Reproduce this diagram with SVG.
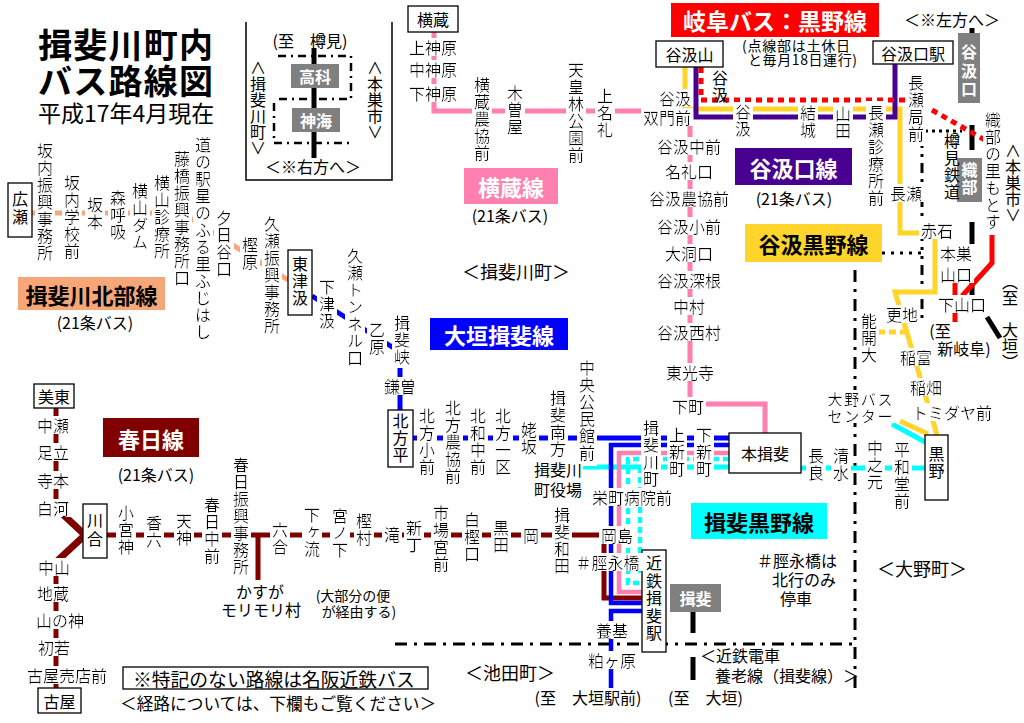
<svg xmlns="http://www.w3.org/2000/svg" width="1024" height="723" viewBox="0 0 1024 723">
<defs>
<filter id="bgh" x="-0.04" y="0.14" width="1.08" height="0.72"><feFlood flood-color="#fff"/><feComposite in="SourceGraphic"/></filter>
<filter id="bgv" x="0.12" y="-0.03" width="0.76" height="1.06"><feFlood flood-color="#fff"/><feComposite in="SourceGraphic"/></filter>
<style>
text{font-family:"Noto Sans CJK JP","Noto Sans CJK SC",sans-serif;font-size:16px;fill:#000}
.h{text-anchor:middle;dominant-baseline:central}
.s{dominant-baseline:central}
.v{writing-mode:vertical-rl;text-orientation:upright;letter-spacing:1px}
.bh{filter:url(#bgh)}
.bv{filter:url(#bgv)}
.w{fill:#fff;font-weight:bold}
.lb{font-size:22px;font-weight:bold;text-anchor:middle;dominant-baseline:central}
.ln{fill:none;stroke-width:5}
.bd{fill:none;stroke-width:4.5}
.box{fill:#fff;stroke:#000;stroke-width:1.3}
.gr{fill:#808080}
.bnd{fill:none;stroke:#000;stroke-width:3}
</style>
</defs>
<rect width="1024" height="723" fill="#fff"/>

<g id="title">
<text x="38" y="43" class="s" style="font-size:34px;font-weight:bold" textLength="175">揖斐川町内</text>
<text x="38" y="79" class="s" style="font-size:34px;font-weight:bold" textLength="175">バス路線図</text>
<text x="38" y="112" class="s" style="font-size:23px">平成17年4月現在</text>
</g>

<g id="inset">
<path d="M246,22V180H392V22" fill="none" stroke="#000" stroke-width="1.5"/>
<path d="M278,56H351V99H278M274,103V143H351" fill="none" stroke="#000" stroke-width="2.5" stroke-dasharray="8 5 2 5"/>
<path d="M314,48V158" stroke="#000" stroke-width="5"/>
<rect x="291" y="64" width="48" height="24" class="gr"/>
<text x="315" y="76" class="h w">高科</text>
<rect x="292" y="108" width="48" height="24" class="gr"/>
<text x="316" y="120" class="h w">神海</text>
<text x="310" y="40" class="h">(至　樽見)</text>
<text x="258" y="60" class="v" style="letter-spacing:0">∧揖斐川町∨</text>
<text x="375" y="60" class="v" style="letter-spacing:0">∧本巣市∨</text>
<text x="313" y="166" class="h">＜※右方へ＞</text>
</g>

<g id="connectors">
<g id="boundaries">
<path class="bnd" d="M395,644H855" stroke-dasharray="12 7 3 7"/>
<path class="bnd" d="M855,270V693" stroke-dasharray="12 7 3 7"/>
<path class="bnd" d="M882,253H922" stroke-dasharray="3 6"/>
<path class="bnd" d="M922,145V318" stroke-dasharray="3 6 3 6 10 6"/>
<path class="bnd" d="M925,131H962" stroke-dasharray="3 4"/>
</g>
<g id="rail" stroke="#000" stroke-width="5" fill="none">
<path d="M972,28V34M972,125V150M972,222V244M972,280V297M987,317L1000,338"/>
<path d="M693,612V633M693,657V680"/>
</g>
<path id="c-hokubu" class="ln" stroke="#F7A677" d="M32,213H182L288,280"/>
<path id="c-yokokura" class="ln" stroke="#FF7FAF" d="M434,32V111H690V404H765V433"/>
<path id="c-yellow" class="ln" stroke="#FFD52B" d="M685,67V109H900V233H935V292H895L937,435"/>
<path id="c-yellow-stub" class="ln" stroke="#FFD52B" d="M900,421L928,434"/>
<path id="c-yellow-dash" class="ln" stroke="#FFD52B" stroke-dasharray="7 4" d="M878,332H906"/>
<path id="c-purple" class="ln" stroke="#480090" d="M696,67V117H895V64"/>
<path id="c-red-dot" class="ln" stroke="#FF0000" stroke-dasharray="6 5" d="M701,67V100H907M932,110L985,140"/>
<path id="c-red" class="ln" stroke="#FF0000" d="M992,230V263L962,296M955,270V322"/>
<path id="c-oogaki" class="ln" stroke="#0000FF" d="M312,296L400,352V410M413,438H729"/>
<path id="c-kasuga" class="ln" stroke="#800000" d="M107,535H604V598H642M258,535V580M56,408V508M56,560V688"/>
<path id="c-kasuga-diag" fill="none" stroke="#800000" stroke-width="7" d="M56,508L85,535L56,562"/>
<path id="c-cyan" class="ln" stroke="#00FFFF" d="M583,467H729M801,468H925M892,424L925,442"/>
<path class="bd" stroke="#0000FF" d="M729,445H611V603H642M642,611H611V688"/>
<path class="bd" stroke="#FF7FAF" d="M729,453H619V592H642"/>
<path class="bd" stroke="#00FFFF" stroke-dasharray="6 4" d="M729,459H628V583H642M640,467V575H642"/>
</g>

<g id="legend-boxes">
<g id="lbl-hokubu"><rect x="18" y="277" width="147" height="33" fill="#F7A677"/><text x="91.5" y="293.5" class="lb">揖斐川北部線</text><text x="95" y="322" class="h">(21条バス)</text></g>
<g id="lbl-yokokura"><rect x="464" y="168" width="94" height="36" fill="#FF7FAF"/><text x="511" y="186" class="lb" style="fill:#fff">横蔵線</text><text x="510" y="215" class="h">(21条バス)</text></g>
<g id="lbl-oogaki"><rect x="430" y="318" width="138" height="32" fill="#0000FF"/><text x="499" y="334" class="lb" style="fill:#fff">大垣揖斐線</text></g>
<g id="lbl-tanigumiguchi"><rect x="735" y="148" width="117" height="37" fill="#480090"/><text x="793.5" y="166.5" class="lb" style="fill:#fff">谷汲口線</text><text x="794" y="198" class="h">(21条バス)</text></g>
<g id="lbl-tanigumikurono"><rect x="745" y="224" width="137" height="38" fill="#FFD52B"/><text x="813.5" y="243" class="lb">谷汲黒野線</text></g>
<g id="lbl-ibikurono"><rect x="691" y="503" width="136" height="36" fill="#00FFFF"/><text x="759" y="521" class="lb">揖斐黒野線</text></g>
<g id="lbl-kasuga"><rect x="103" y="418" width="96" height="39" fill="#800000"/><text x="151" y="437.5" class="lb" style="fill:#fff">春日線</text><text x="156" y="474" class="h">(21条バス)</text></g>
<g id="lbl-gifubus"><rect x="671" y="3" width="208" height="34" fill="#FF0000"/><text x="775" y="20" class="lb" style="fill:#fff;font-size:23px">岐阜バス：黒野線</text>
<text x="742" y="45" class="s" style="font-size:14px" textLength="108">(点線部は土休日</text><text x="748" y="59" class="s" style="font-size:14px" textLength="109">と毎月18日運行)</text></g>
</g>

<g id="n-hirose"><rect x="8" y="183" width="24" height="54" class="box"/><text x="20" y="191" class="v" style="letter-spacing:2px">広瀬</text></g>
<g id="n-higashitsukumi"><rect x="288" y="250" width="24" height="65" class="box"/><text x="300" y="256" class="v">東津汲</text></g>
<g id="n-kitagatahira"><rect x="388" y="410" width="25" height="57" class="box"/><text x="400.5" y="413" class="v">北方平</text></g>
<g id="n-yokokura"><rect x="408" y="6" width="50" height="26" class="box"/><text x="433" y="19" class="h">横蔵</text></g>
<g id="n-tanigumisan"><rect x="656" y="41" width="67" height="26" class="box"/><text x="689.5" y="54" class="h">谷汲山</text></g>
<g id="n-tanigumiguchieki"><rect x="873" y="41" width="80" height="23" class="box"/><text x="913" y="52.5" class="h">谷汲口駅</text></g>
<g id="n-honibi"><rect x="729" y="433" width="72" height="40" class="box"/><text x="765" y="453" class="h">本揖斐</text></g>
<g id="n-kurono"><rect x="925" y="435" width="23" height="65" class="box"/><text x="936.5" y="446" class="v">黒野</text></g>
<g id="n-kintetsuibi"><rect x="642" y="550" width="24" height="102" class="box"/><text x="654" y="555" class="v" style="letter-spacing:1.5px">近鉄揖斐駅</text></g>
<g id="n-mito"><rect x="34" y="384" width="40" height="24" class="box"/><text x="54" y="396" class="h">美東</text></g>
<g id="n-kawai"><rect x="83" y="504" width="24" height="54" class="box"/><text x="95" y="512" class="v" style="letter-spacing:3px">川合</text></g>
<g id="n-furuya"><rect x="38" y="688" width="43" height="25" class="box"/><text x="59.5" y="700.5" class="h">古屋</text></g>

<g id="rail-stations">
<rect x="958" y="33" width="22" height="70" class="gr"/><text x="969" y="44" class="v w" style="letter-spacing:2.5px">谷汲口</text>
<rect x="957" y="158" width="25" height="44" class="gr"/><text x="969.5" y="162" class="v w">織部</text>
<rect x="670" y="584" width="51" height="28" class="gr"/><text x="695.5" y="598" class="h w">揖斐</text>
<text x="952" y="133" class="v">樽見鉄道</text>
<text x="952" y="19" class="h">＜※左方へ＞</text>
<text x="1013" y="143" class="v" style="letter-spacing:0">∧本巣市∨</text>
<text x="1010" y="274" class="v" style="letter-spacing:0">︵至　大垣︶</text>
<text x="700" y="655" class="s">＜近鉄電車</text>
<text x="715" y="675" class="s">養老線（揖斐線）＞</text>
<text x="668" y="697" class="s">(至　大垣)</text>
</g>

<g id="stops-hokubu">
<text class="v bv" x="45" y="143">坂内振興事務所</text>
<text class="v bv" x="72" y="175">坂内学校前</text>
<text class="v bv" x="95" y="197">坂本</text>
<text class="v bv" x="118" y="190">森呼吸</text>
<text class="v bv" x="140" y="183">横山ダム</text>
<text class="v bv" x="162" y="175">横山診療所</text>
<text class="v bv" x="182" y="151">藤橋振興事務所口</text>
<text class="v bv" x="203" y="137">道の駅星のふる里ふじはし</text>
<text class="v bv" x="224" y="210">夕日谷口</text>
<text class="v bv" x="250" y="237">樫原</text>
<text class="v bv" x="272" y="216">久瀬振興事務所</text>
</g>

<g id="stops-oogaki">
<text class="v bv" x="327" y="279">下津汲</text>
<text class="v bv" x="355" y="248">久瀬トンネル口</text>
<text class="v bv" x="377" y="322">乙原</text>
<text class="v bv" x="402" y="315">揖斐峡</text>
<text class="h bh" x="400" y="386">鎌曽</text>
<text class="v bv" x="427" y="408">北方小前</text>
<text class="v bv" x="453" y="400">北方農協前</text>
<text class="v bv" x="478" y="408">北和中前</text>
<text class="v bv" x="503" y="408">北方一区</text>
<text class="v bv" x="529" y="422">姥坂</text>
<text class="v bv" x="558" y="390">揖斐南方</text>
<text class="v bv" x="587" y="360">中央公民館前</text>
<text class="v bv" x="651" y="420">揖斐川町</text>
<text class="v bv" x="677" y="427">上新町</text>
<text class="v bv" x="704" y="427">下新町</text>
<text class="s" x="582" y="469" text-anchor="end">揖斐川</text>
<text class="s" x="582" y="489" text-anchor="end">町役場</text>
<text class="h bh" x="632" y="497">栄町病院前</text>
<text class="h bh" x="612" y="630">養基</text>
<text class="h bh" x="612" y="660">粕ヶ原</text>
<text class="h" x="588" y="697">(至　大垣駅前)</text>
</g>

<g id="stops-yokokura">
<text class="h bh" x="433" y="47">上神原</text>
<text class="h bh" x="433" y="69">中神原</text>
<text class="h bh" x="433" y="93">下神原</text>
<text class="v bv" x="482" y="77">横蔵農協前</text>
<text class="v bv" x="515" y="85">木曽屋</text>
<text class="v bv" x="576" y="62">天皇林公園前</text>
<text class="v bv" x="605" y="88">上名礼</text>
<text class="s bh" x="691" y="98" text-anchor="end">谷汲</text>
<text class="s bh" x="691" y="117" text-anchor="end">双門前</text>
<text class="h bh" x="689" y="146">谷汲中前</text>
<text class="h bh" x="689" y="171">名礼口</text>
<text class="h bh" x="689" y="198">谷汲農協前</text>
<text class="h bh" x="689" y="226">谷汲小前</text>
<text class="h bh" x="689" y="253">大洞口</text>
<text class="h bh" x="689" y="280">谷汲深根</text>
<text class="h bh" x="689" y="306">中村</text>
<text class="h bh" x="689" y="332">谷汲西村</text>
<text class="h bh" x="690" y="372">東光寺</text>
<text class="h bh" x="688" y="406">下町</text>
</g>

<g id="stops-tanigumi">
<text class="v" x="720" y="70">谷汲</text>
<text class="v bv" x="743" y="104">谷汲</text>
<text class="v bv" x="808" y="105">結城</text>
<text class="v bv" x="843" y="106">山田</text>
<text class="v bv" x="876" y="105">長瀬診療所前</text>
<text class="v bv" x="916" y="75">長瀬局前</text>
<text class="h bh" x="906" y="193">長瀬</text>
<text class="h bh" x="937" y="230">赤石</text>
<text class="h bh" x="902" y="314">更地</text>
<text class="v bv" x="869" y="313">能開大</text>
<text class="h bh" x="916" y="357">稲富</text>
<text class="h bh" x="926" y="387">稲畑</text>
<text class="h bh" x="952" y="412">トミダヤ前</text>
<text class="h bh" x="860" y="398" style="font-size:15px" textLength="65">大野バス</text>
<text class="h bh" x="860" y="415" style="font-size:15px" textLength="65">センター</text>
</g>

<g id="stops-gifubus">
<text class="v bv" x="993" y="112">織部の里もとす</text>
<text class="h bh" x="956" y="253">本巣</text>
<text class="h bh" x="956" y="274">山口</text>
<text class="h bh" x="962" y="304">下山口</text>
<text class="h" x="940" y="330">(至</text>
<text class="h" x="964" y="348">新岐阜)</text>
</g>

<g id="stops-ibikurono">
<text class="v bv" x="816" y="448">長良</text>
<text class="v bv" x="841" y="448">清水</text>
<text class="v bv" x="875" y="440">中之元</text>
<text class="v bv" x="902" y="442">平和堂前</text>
</g>

<g id="stops-kasuga">
<text class="h bh" x="53" y="425">中瀬</text>
<text class="h bh" x="53" y="452">足立</text>
<text class="h bh" x="53" y="480">寺本</text>
<text class="h bh" x="53" y="508">白河</text>
<text class="h bh" x="54" y="567">中山</text>
<text class="h bh" x="53" y="593">地蔵</text>
<text class="h bh" x="60" y="620">山の神</text>
<text class="h bh" x="54" y="647">初若</text>
<text class="h bh" x="67" y="675">古屋売店前</text>
<text class="v bv" x="126" y="505">小宮神</text>
<text class="v bv" x="154" y="515">香六</text>
<text class="v bv" x="184" y="513">天神</text>
<text class="v bv" x="212" y="497">春日中前</text>
<text class="v bv" x="241" y="457">春日振興事務所</text>
<text class="v bv" x="280" y="522">六合</text>
<text class="v bv" x="312" y="507">下ヶ流</text>
<text class="v bv" x="340" y="508">宮ノ下</text>
<text class="v bv" x="364" y="513">樫村</text>
<text class="v bv" x="392" y="527">滝</text>
<text class="v bv" x="414" y="520">新丁</text>
<text class="v bv" x="441" y="505">市場宮前</text>
<text class="v bv" x="472" y="512">白樫口</text>
<text class="v bv" x="501" y="520">黒田</text>
<text class="v bv" x="531" y="528">岡</text>
<text class="v bv" x="562" y="507">揖斐和田</text>
<text class="h bh" x="617" y="535">岡島</text>
<text class="h bh" x="607.5" y="562">＃脛永橋</text>
<text class="h" x="260" y="591">かすが</text>
<text class="h" x="261" y="609">モリモリ村</text>
<text class="h" x="353" y="595" style="font-size:14px">(大部分の便</text>
<text class="h" x="359" y="611" style="font-size:14px">が経由する)</text>
</g>

<g id="notes">
<text class="s" x="757" y="560">＃脛永橋は</text>
<text class="s" x="772" y="579">北行のみ</text>
<text class="s" x="780" y="598">停車</text>
<text class="s" x="462" y="271" style="font-size:18px">＜揖斐川町＞</text>
<text class="s" x="465" y="672" style="font-size:18px">＜池田町＞</text>
<text class="s" x="877" y="568" style="font-size:18px">＜大野町＞</text>
<rect x="123" y="667" width="305" height="22" fill="none" stroke="#000" stroke-width="1.3"/>
<text class="s" x="133" y="678" style="font-size:18.8px">※特記のない路線は名阪近鉄バス</text>
<text class="s" x="120" y="703" style="font-size:16.7px">＜経路については、下欄もご覧ください＞</text>
</g>
</svg>
